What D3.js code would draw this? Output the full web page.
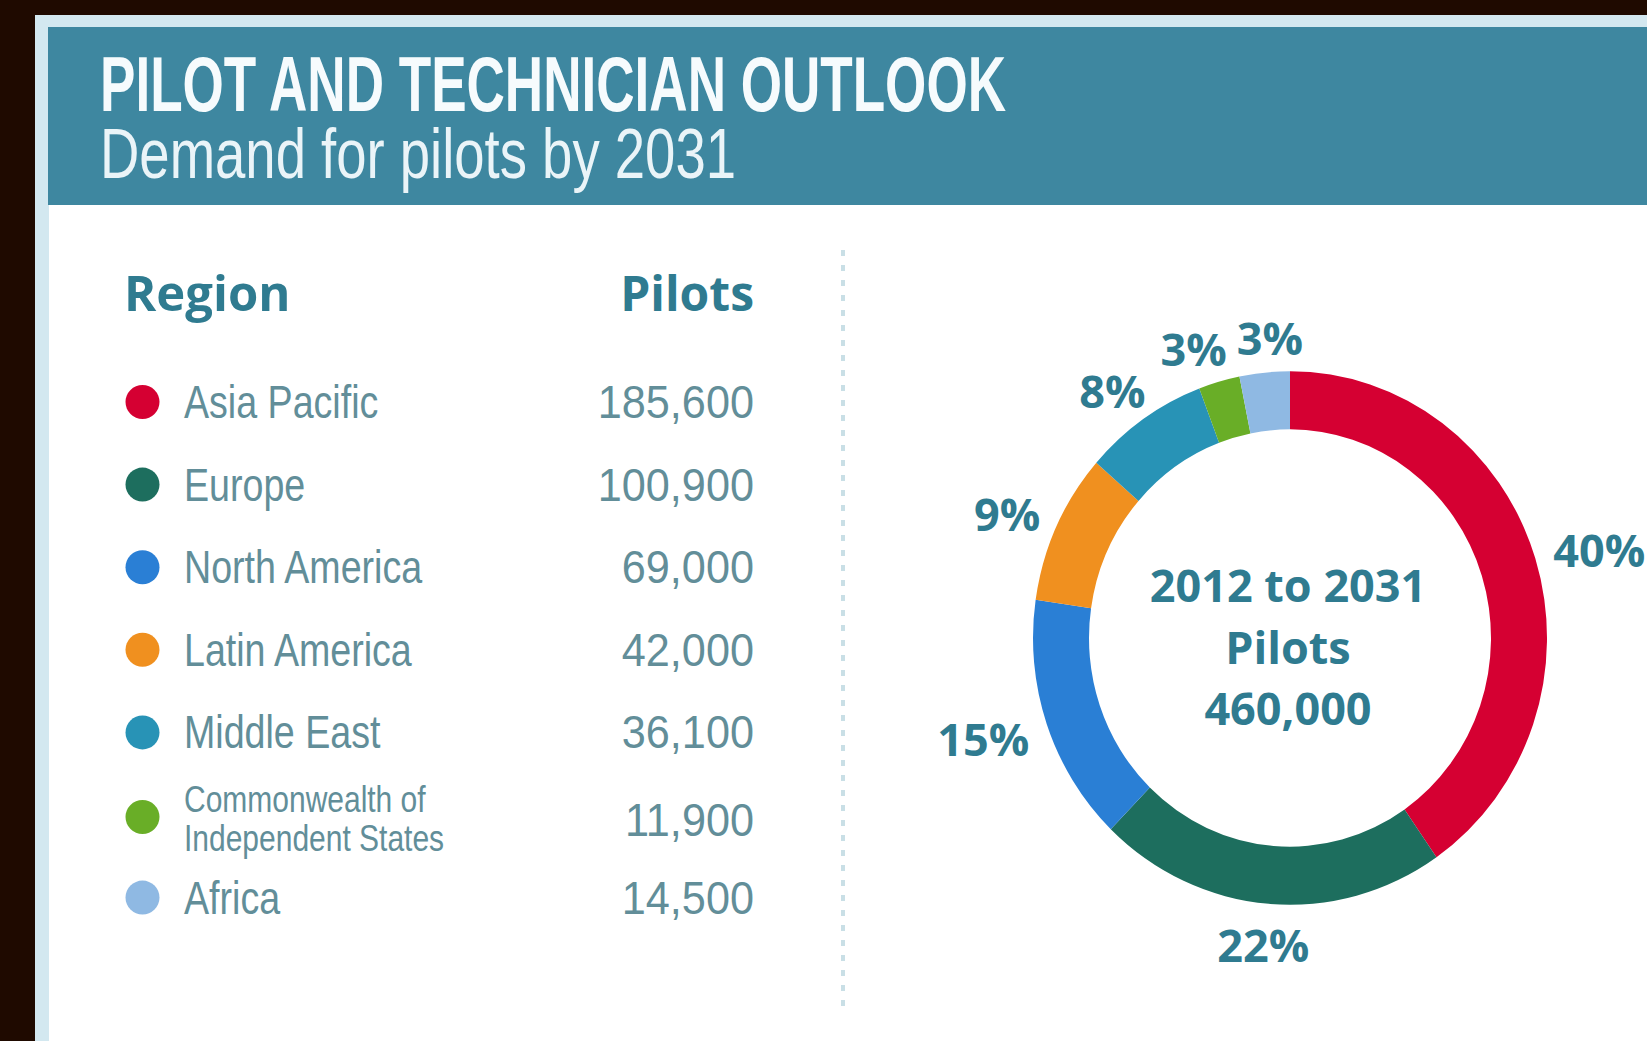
<!DOCTYPE html>
<html>
<head>
<meta charset="utf-8">
<script src="https://cdn.jsdelivr.net/npm/d3@7"></script>
<style>
  html, body { margin: 0; padding: 0; background: #1f0a00; }
  svg { display: block; }
  .narrow { font-family: "Liberation Sans", Arial, sans-serif; }
  .bold { font-family: "Open Sans", "Noto Sans", sans-serif; font-weight: 700; }
</style>
</head>
<body>
<div id="chart"></div>
<script>
// Data
const title = "PILOT AND TECHNICIAN OUTLOOK";
const subtitle = "Demand for pilots by 2031";
const regions = ["Asia Pacific", "Europe", "North America", "Latin America", "Middle East", "Commonwealth of Independent States", "Africa"];
const regionLabels = [["Asia Pacific"], ["Europe"], ["North America"], ["Latin America"], ["Middle East"], ["Commonwealth of", "Independent States"], ["Africa"]];
const pilots = [185600, 100900, 69000, 42000, 36100, 11900, 14500];
const colors = ["#d50032", "#1d6e5e", "#2a7fd5", "#f0901f", "#2893b6", "#69ae27", "#8fb9e3"];
const centerLines = ["2012 to 2031", "Pilots", "460,000"];

const width = 1647, height = 1041;
const teal = "#3e87a0", textTeal = "#2f7b90", rowText = "#628e99";

const svg = d3.select("#chart")
    .append("svg")
    .attr("width", width)
    .attr("height", height);

// background + panel
svg.append("rect").attr("width", width).attr("height", height).attr("fill", "#1f0a00");
svg.append("rect").attr("x", 35).attr("y", 15).attr("width", width).attr("height", height).attr("fill", "#d3e8f0");
svg.append("rect").attr("x", 49).attr("y", 205).attr("width", width).attr("height", height).attr("fill", "#ffffff");
svg.append("rect").attr("x", 48).attr("y", 27).attr("width", width).attr("height", 178).attr("fill", teal);

// header text
svg.append("text")
    .attr("class", "narrow")
    .attr("x", 100).attr("y", 111)
    .attr("font-size", 78).attr("font-weight", 700)
    .attr("fill", "#f6fbfd")
    .attr("textLength", 906).attr("lengthAdjust", "spacingAndGlyphs")
    .text(title);

svg.append("text")
    .attr("class", "narrow")
    .attr("x", 100).attr("y", 178)
    .attr("font-size", 70)
    .attr("fill", "#eaf4f8")
    .attr("textLength", 636).attr("lengthAdjust", "spacingAndGlyphs")
    .text(subtitle);

// table
const colLeft = 124, dotX = 142.5, nameX = 184, numRight = 754;
const nameSquash = 0.80, numSquash = 0.92;
const y = d3.scalePoint().domain(regions).range([418, 913.6]);
const fmt = d3.format(",");

svg.append("text").attr("class", "bold")
    .attr("x", colLeft).attr("y", 311)
    .attr("font-size", 49).attr("fill", textTeal)
    .text("Region");
svg.append("text").attr("class", "bold")
    .attr("x", numRight).attr("y", 311)
    .attr("text-anchor", "end")
    .attr("font-size", 48).attr("fill", textTeal)
    .text("Pilots");

const rows = svg.selectAll(".row")
    .data(regions)
    .join("g")
    .attr("class", "row")
    .attr("transform", d => "translate(0," + y(d) + ")");

rows.append("circle")
    .attr("cx", dotX)
    .attr("cy", (d, i) => regionLabels[i].length > 1 ? -14 : -16)
    .attr("r", 17)
    .attr("fill", (d, i) => colors[i]);

rows.each(function(d, i) {
    const lines = regionLabels[i];
    const g = d3.select(this).append("g")
        .attr("transform", "translate(" + nameX + ",0) scale(" + nameSquash + ",1)");
    g.selectAll("text")
        .data(lines)
        .join("text")
        .attr("class", "narrow")
        .attr("y", (l, j) => lines.length === 1 ? 0 : (j === 0 ? -19 : 20))
        .attr("font-size", lines.length === 1 ? 47 : 37.5)
        .attr("fill", rowText)
        .text(l => l);
});

rows.append("text").attr("class", "narrow")
    .attr("transform", (d, i) => "translate(" + numRight + "," + (regionLabels[i].length > 1 ? 5 : 0) + ") scale(" + numSquash + ",1)")
    .attr("text-anchor", "end")
    .attr("font-size", 47).attr("fill", rowText)
    .text((d, i) => fmt(pilots[i]));

// dotted separator
svg.append("line")
    .attr("x1", 843).attr("x2", 843)
    .attr("y1", 250).attr("y2", 1015)
    .attr("stroke", "#c9dfe6")
    .attr("stroke-width", 4)
    .attr("stroke-dasharray", "6 9");

// donut
const cx = 1290, cy = 638, rOuter = 257, rInner = 201, sy = 1.038;
const total = d3.sum(pilots);
const pct = d3.format(".0%");
const pie = d3.pie().sort(null).value(d => d);
const arcs = pie(pilots);
const arc = d3.arc().innerRadius(rInner).outerRadius(rOuter);

svg.append("g")
    .attr("transform", "translate(" + cx + "," + cy + ") scale(1," + sy + ")")
    .selectAll("path")
    .data(arcs)
    .join("path")
    .attr("d", arc)
    .attr("fill", (d, i) => colors[i]);

// percentage labels, near edge kept just outside the ring
const labelR = 278, halfH = 16;
const labels = svg.append("g")
    .attr("transform", "translate(" + cx + "," + cy + ")")
    .selectAll("text")
    .data(arcs)
    .join("text")
    .attr("class", "bold")
    .attr("font-size", 45)
    .attr("fill", textTeal)
    .attr("text-anchor", "middle")
    .attr("dy", "0.45em")
    .text(d => pct(d.value / total));

const widths = labels.nodes().map(n => n.getComputedTextLength());
const pos = arcs.map((d, i) => {
    const a = (d.startAngle + d.endAngle) / 2;
    const s = Math.sin(a), c = Math.cos(a);
    return {x: labelR * s + s * widths[i] / 2, y: -labelR * c * sy - c * halfH};
});
// nudge neighbours apart where they collide
for (let k = 0; k < 5; k++) {
    for (let i = 0; i < pos.length - 1; i++) {
        const a = pos[i], b = pos[i + 1];
        const need = (widths[i] + widths[i + 1]) / 2 + 10;
        if (Math.abs(a.y - b.y) < 40 && Math.abs(a.x - b.x) < need) {
            const push = (need - Math.abs(a.x - b.x)) / 2;
            const s = a.x < b.x ? 1 : -1;
            a.x -= s * push;
            b.x += s * push;
        }
    }
}
labels.attr("x", (d, i) => pos[i].x).attr("y", (d, i) => pos[i].y);

// center text
svg.append("g")
    .selectAll("text")
    .data(centerLines)
    .join("text")
    .attr("class", "bold")
    .attr("x", cx - 2)
    .attr("y", (d, i) => 602 + i * 61.5)
    .attr("text-anchor", "middle")
    .attr("font-size", 45)
    .attr("fill", textTeal)
    .text(d => d);
</script>
</body>
</html>
